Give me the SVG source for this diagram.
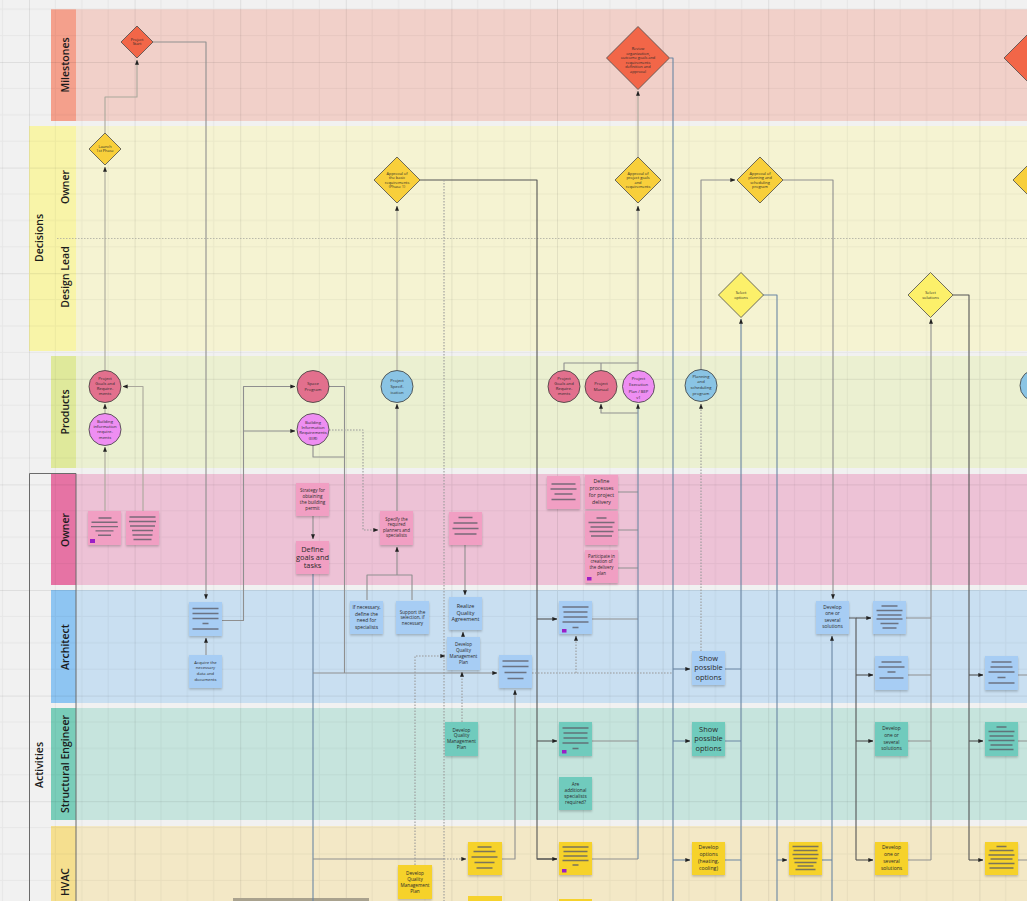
<svg xmlns="http://www.w3.org/2000/svg" width="1027" height="901" viewBox="0 0 1027 901">
<defs>
<style>
.lbl{font-family:"Open Sans","Noto Sans",sans-serif;font-weight:600;font-size:10.5px;fill:#1c1c1c;text-anchor:middle}
.t{font-family:"Open Sans","Noto Sans",sans-serif;fill:#2a2a2a;text-anchor:middle}
.xs{font-size:3.9px}
.cs{font-size:4.2px}
.s{font-size:4.6px}
.m{font-size:7.4px}
.st{filter:url(#sh)}
.pk{fill:#f19fc3}
.bl{fill:#a7cdf4}
.tl{fill:#6fcbbd}
.yl{fill:#f6d22c}
.bars{fill:none;stroke:#5d5d66;stroke-width:1.4;opacity:.8}
.pu{fill:#9a1fc6}
.c{stroke:#3a3a3a;stroke-width:.8}
.dm{stroke:#4a4a4a;stroke-width:.8}
.ln{fill:none;stroke:#8f8f8f;stroke-width:1.1;stroke-linejoin:round}
.lg{stroke:#aaa89c}
.lb{stroke:#6a86a3}
.ld{stroke:#555}
.dt{stroke-dasharray:1.6 1.4;stroke:#9a9a9a}
.ar{marker-end:url(#ah)}
</style>
<marker id="ah" viewBox="0 0 6 6" refX="5.6" refY="3" markerWidth="5" markerHeight="5" orient="auto" markerUnits="userSpaceOnUse"><path d="M0,0.6 L6,3 L0,5.4z" fill="#222"/></marker>
<filter id="sh" x="-20%" y="-20%" width="140%" height="150%"><feDropShadow dx="0" dy="1.5" stdDeviation="1" flood-color="#000" flood-opacity="0.22"/></filter>
<pattern id="grid" x="29" y="-43.6" width="105.6" height="105.6" patternUnits="userSpaceOnUse">
<path d="M26.4,0V105.6M52.8,0V105.6M79.2,0V105.6M0,26.4H105.6M0,52.8H105.6M0,79.2H105.6" stroke="#000" stroke-opacity="0.045" stroke-width="1" fill="none"/>
<path d="M0.5,0V105.6M0,0.5H105.6" stroke="#000" stroke-opacity="0.08" stroke-width="1" fill="none"/>
</pattern>
</defs>

<rect x="0" y="0" width="1027" height="901" fill="#f1f1f1"/>

<g id="lanes">
<rect x="76" y="9.3" width="951" height="111.7" fill="#f1d0c9"/>
<rect x="51" y="9.3" width="25" height="111.7" fill="#f4a08c"/>
<rect x="76" y="126" width="951" height="225" fill="#f5f3d2"/>
<rect x="29" y="126" width="47" height="225" fill="#f8f4a8"/>
<rect x="76" y="356" width="951" height="112" fill="#ebf0d1"/>
<rect x="51" y="356" width="25" height="112" fill="#dfe99b"/>
<rect x="76" y="474" width="951" height="111" fill="#edc2d6"/>
<rect x="51" y="474" width="25" height="111" fill="#e673a4"/>
<rect x="76" y="590" width="951" height="113" fill="#c9dff1"/>
<rect x="51" y="590" width="25" height="113" fill="#8ec5f2"/>
<rect x="76" y="708" width="951" height="112" fill="#c6e4dd"/>
<rect x="51" y="708" width="25" height="112" fill="#79cdb9"/>
<rect x="76" y="826" width="951" height="112" fill="#f3e8c6"/>
<rect x="51" y="826" width="25" height="112" fill="#f5df8f"/>
</g>
<rect x="0" y="0" width="1027" height="901" fill="url(#grid)"/>
<g id="lane-frame">
<path d="M57,238.5H1027" stroke="#a9a9a0" stroke-width="0.8" stroke-dasharray="1.5 1.5" fill="none"/>
<path d="M29.5,905V473.5H76M76,473.5V905" stroke="#6b6b6b" stroke-width="1" fill="none"/>
<rect x="233" y="898" width="136" height="3" fill="#a9a28e"/>
</g>
<g id="lane-labels">
<text class="lbl" transform="translate(68.5,65) rotate(-90)">Milestones</text>
<text class="lbl" transform="translate(42.5,238) rotate(-90)">Decisions</text>
<text class="lbl" transform="translate(68.5,187) rotate(-90)">Owner</text>
<text class="lbl" transform="translate(68.5,277) rotate(-90)">Design Lead</text>
<text class="lbl" transform="translate(68.5,412) rotate(-90)">Products</text>
<text class="lbl" transform="translate(42.5,765) rotate(-90)">Activities</text>
<text class="lbl" transform="translate(68.5,530) rotate(-90)">Owner</text>
<text class="lbl" transform="translate(68.5,647) rotate(-90)">Architect</text>
<text class="lbl" transform="translate(68.5,764) rotate(-90)">Structural Engineer</text>
<text class="lbl" transform="translate(68.5,882) rotate(-90)">HVAC</text>
</g>

<g id="connectors">
<path class="ln lg ar" d="M105,511V447"/>
<path class="ln lg ar" d="M105,413V404"/>
<path class="ln lg ar" d="M105,370V167"/>
<path class="ln lg ar" d="M105,133V97H137V60"/>
<path class="ln lg ar" d="M143,511V386.5H123"/>
<path class="ln ar" d="M153,42H206V599"/>
<path class="ln ar" d="M206,655V638"/>
<path class="ln ar" d="M222,620.5H243.5V386.5H295"/>
<path class="ln ar" d="M243.5,431H295"/>
<path class="ln ar" d="M313,516V539"/>
<path class="ln lb" d="M313,574V901"/>
<path class="ln ar" d="M313,673H497"/>
<path class="ln" d="M313,859H444"/>
<path class="ln dt ar" d="M444,859H466"/>
<path class="ln" d="M329,386.5H344.5V673"/>
<path class="ln" d="M313,445V457H344.5"/>
<path class="ln dt ar" d="M329,430H363V530H378"/>
<path class="ln ar" d="M397,511V404"/>
<path class="ln lg ar" d="M397,370V206"/>
<path class="ln" d="M367,600V575H412V600"/>
<path class="ln ar" d="M397,575V547"/>
<path class="ln ld" d="M420,180H537V859H557"/>
<path class="ln ld ar" d="M537,859H557"/>
<path class="ln ld ar" d="M537,619H557"/>
<path class="ln ld ar" d="M537,741H557"/>
<path class="ln dt" d="M444,180V901"/>
<path class="ln dt ar" d="M415,865V656H445"/>
<path class="ln dt ar" d="M462,722V672"/>
<path class="ln ar" d="M463,637V632"/>
<path class="ln ar" d="M465,545V595"/>
<path class="ln ar" d="M502,859H515V690"/>
<path class="ln" d="M592,619H638M592,741H638M592,859H638M618,492H638M618,530H638M618,568H638"/>
<path class="ln lb ar" d="M638,859V404"/>
<path class="ln ar" d="M638,413H601V404"/>
<path class="ln" d="M564,370V363H638M601,370V363"/>
<path class="ln ar" d="M638,370V206"/>
<path class="ln lg ar" d="M638,157V91"/>
<path class="ln lb" d="M670,58H673V901"/>
<path class="ln lb ar" d="M673,669H690"/>
<path class="ln lb ar" d="M673,741H690"/>
<path class="ln lb ar" d="M673,860H690"/>
<path class="ln dt" d="M532,673H673"/>
<path class="ln dt ar" d="M576,673V636"/>
<path class="ln dt ar" d="M701,651V404"/>
<path class="ln ar" d="M701,370V180H735"/>
<path class="ln ar" d="M783,180H833V599"/>
<path class="ln lb" d="M725,669H741M725,741H741M725,860H741"/>
<path class="ln lb ar" d="M741,901V319"/>
<path class="ln lb" d="M763,295H777V901"/>
<path class="ln lb ar" d="M777,860H787"/>
<path class="ln lb" d="M822,860H832"/>
<path class="ln lb ar" d="M832,901V636"/>
<path class="ln ld" d="M849,618H856V860"/>
<path class="ln ld ar" d="M856,618H871"/>
<path class="ln ld ar" d="M856,675H873"/>
<path class="ln ld ar" d="M856,741H873"/>
<path class="ln ld ar" d="M856,860H873"/>
<path class="ln" d="M906,618H931M908,675H931M908,741H931M908,860H931"/>
<path class="ln ar" d="M931,860V319"/>
<path class="ln ld" d="M953,295H969V860"/>
<path class="ln ld ar" d="M969,675H983"/>
<path class="ln ld ar" d="M969,741H983"/>
<path class="ln ld ar" d="M969,860H983"/>
<path class="ln" d="M1018,675H1027M1018,741H1027M1018,860H1027"/>
</g>

<g id="milestones">
<g id="m1"><polygon class="dm" points="137,26 153,42 137,58 121,42" fill="#f26648"/>
<text class="t xs" x="137" y="41"><tspan x="137">Project</tspan><tspan x="137" dy="4.4">Start</tspan></text></g>
<g id="m2"><polygon class="dm" points="638,26.5 669.5,58 638,89.5 606.5,58" fill="#f26648"/>
<text class="t xs" x="638" y="50"><tspan x="638">Review</tspan><tspan x="638" dy="4.6">organization,</tspan><tspan x="638" dy="4.6">outcome goals and</tspan><tspan x="638" dy="4.6">requirements</tspan><tspan x="638" dy="4.6">definition and</tspan><tspan x="638" dy="4.6">approval</tspan></text></g>
<g id="m3"><polygon class="dm" points="1035,27 1066,58 1035,89 1004,58" fill="#f26648"/></g>
</g>

<g id="decisions">
<g id="d1"><polygon class="dm" points="105,133 121,149 105,165 89,149" fill="#f8cf3b"/>
<text class="t xs" x="105" y="148"><tspan x="105">Launch</tspan><tspan x="105" dy="4.4">1st Phase</tspan></text></g>
<g id="d2"><polygon class="dm" points="397,157 420,180 397,203 374,180" fill="#f8cf3b"/>
<text class="t xs" x="397" y="174.5"><tspan x="397">Approval of</tspan><tspan x="397" dy="4.6">the basic</tspan><tspan x="397" dy="4.6">requirements</tspan><tspan x="397" dy="4.6">(Phase 1)</tspan></text></g>
<g id="d3"><polygon class="dm" points="638,157 661,180 638,203 615,180" fill="#f8cf3b"/>
<text class="t xs" x="638" y="174.5"><tspan x="638">Approval of</tspan><tspan x="638" dy="4.6">project goals</tspan><tspan x="638" dy="4.6">and</tspan><tspan x="638" dy="4.6">requirements</tspan></text></g>
<g id="d4"><polygon class="dm" points="760,157 783,180 760,203 737,180" fill="#f8cf3b"/>
<text class="t xs" x="760" y="174.5"><tspan x="760">Approval of</tspan><tspan x="760" dy="4.6">planning and</tspan><tspan x="760" dy="4.6">scheduling</tspan><tspan x="760" dy="4.6">program</tspan></text></g>
<g id="d5"><polygon class="dm" points="1036,157 1059,180 1036,203 1013,180" fill="#f8cf3b"/></g>
<g id="d6"><polygon class="dm" points="741,272.5 763.5,295 741,317.5 718.5,295" fill="#fcf06a"/>
<text class="t xs" x="741" y="294"><tspan x="741">Select</tspan><tspan x="741" dy="4.6">options</tspan></text></g>
<g id="d7"><polygon class="dm" points="930.5,272.5 953,295 930.5,317.5 908,295" fill="#fcf06a"/>
<text class="t xs" x="930.5" y="294"><tspan x="930.5">Select</tspan><tspan x="930.5" dy="4.6">solutions</tspan></text></g>
</g>

<g id="products">
<g id="p1"><circle class="c" cx="105" cy="386.5" r="16" fill="#e2708d"/>
<text class="t cs" x="105" y="379.5"><tspan x="105">Project</tspan><tspan x="105" dy="5.3">Goals and</tspan><tspan x="105" dy="5.3">Require-</tspan><tspan x="105" dy="5.3">ments</tspan></text></g>
<g id="p2"><circle class="c" cx="105" cy="429.5" r="16" fill="#ee8ef2"/>
<text class="t cs" x="105" y="423"><tspan x="105">Building</tspan><tspan x="105" dy="5.2">information</tspan><tspan x="105" dy="5.2">require-</tspan><tspan x="105" dy="5.2">ments</tspan></text></g>
<g id="p3"><circle class="c" cx="313" cy="386.5" r="16" fill="#e2708d"/>
<text class="t cs" x="313" y="385.3"><tspan x="313">Space</tspan><tspan x="313" dy="5.2">Program</tspan></text></g>
<g id="p4"><circle class="c" cx="313" cy="429.5" r="16" fill="#ee8ef2"/>
<text class="t cs" x="313" y="423.5"><tspan x="313">Building</tspan><tspan x="313" dy="5.4">Information</tspan><tspan x="313" dy="5.4">Requirements</tspan><tspan x="313" dy="5.4">(EIR)</tspan></text></g>
<g id="p5"><circle class="c" cx="397" cy="386.5" r="16" fill="#8ac4e4"/>
<text class="t cs" x="397" y="381.5"><tspan x="397">Project</tspan><tspan x="397" dy="6">Specif-</tspan><tspan x="397" dy="6">ication</tspan></text></g>
<g id="p6"><circle class="c" cx="564" cy="386.5" r="16" fill="#e2708d"/>
<text class="t cs" x="564" y="379.5"><tspan x="564">Project</tspan><tspan x="564" dy="5.3">Goals and</tspan><tspan x="564" dy="5.3">Require-</tspan><tspan x="564" dy="5.3">ments</tspan></text></g>
<g id="p7"><circle class="c" cx="601" cy="386.5" r="16" fill="#e2708d"/>
<text class="t cs" x="601" y="385.4"><tspan x="601">Project</tspan><tspan x="601" dy="5.2">Manual</tspan></text></g>
<g id="p8"><circle class="c" cx="638.5" cy="386.5" r="16" fill="#ee8ef2"/>
<text class="t cs" x="638.5" y="379.5"><tspan x="638.5">Project</tspan><tspan x="638.5" dy="6.5">Execution</tspan><tspan x="638.5" dy="6.5">Plan / BEP</tspan><tspan x="638.5" dy="6.5">v1</tspan></text></g>
<g id="p9"><circle class="c" cx="701" cy="385.5" r="16" fill="#8ac4e4"/>
<text class="t cs" x="701" y="377.5"><tspan x="701">Planning</tspan><tspan x="701" dy="5.7">and</tspan><tspan x="701" dy="5.7">scheduling</tspan><tspan x="701" dy="5.7">program</tspan></text></g>
<g id="p10"><circle class="c" cx="1036" cy="385.5" r="16" fill="#8ac4e4"/></g>
</g>

<g id="owner-activities">
<g id="o1"><rect class="st pk" x="88" y="511" width="33" height="34"/><path class="bars" d="M98.5,518H111.5M91.5,522.3H117.5M91,526.6H118M95.5,530.9H113.5M98,535.2H111"/><rect class="pu" x="90" y="539" width="5" height="4"/></g>
<g id="o2"><rect class="st pk" x="126" y="511" width="33" height="34"/><path class="bars" d="M129.5,517H155.5M129,521.5H156M130,526H155M132,530.5H153M132.5,535H152.5M133.5,539.5H151.5"/></g>
<g id="o3"><rect class="st pk" x="296" y="483" width="33" height="33"/>
<text class="t s" x="312.5" y="491.6"><tspan x="312.5">Strategy for</tspan><tspan x="312.5" dy="6.2">obtaining</tspan><tspan x="312.5" dy="6.2">the building</tspan><tspan x="312.5" dy="6.2">permit</tspan></text></g>
<g id="o4"><rect class="st pk" x="296" y="541" width="33" height="33"/>
<text class="t m" x="312.5" y="551.5"><tspan x="312.5">Define</tspan><tspan x="312.5" dy="8">goals and</tspan><tspan x="312.5" dy="8">tasks</tspan></text></g>
<g id="o5"><rect class="st pk" x="380" y="511" width="33" height="34"/>
<text class="t s" x="396.5" y="520.5" style="font-size:4.4px"><tspan x="396.5">Specify the</tspan><tspan x="396.5" dy="5.6">required</tspan><tspan x="396.5" dy="5.6">planners and</tspan><tspan x="396.5" dy="5.6">specialists</tspan></text></g>
<g id="o6"><rect class="st pk" x="449" y="512" width="33" height="33"/><path class="bars" d="M458.5,517.5H472.5M453.5,523H477.5M452.5,528.5H478.5M454.5,534H476.5"/></g>
<g id="o7"><rect class="st pk" x="547" y="476" width="33" height="33"/><path class="bars" d="M551.5,484H575.5M550.5,489H576.5M554.5,494H572.5M551.5,499.5H575.5"/></g>
<g id="o8"><rect class="st pk" x="585" y="475" width="33" height="34"/>
<text class="t" x="601.5" y="483" style="font-size:5.2px"><tspan x="601.5">Define</tspan><tspan x="601.5" dy="7">processes</tspan><tspan x="601.5" dy="7">for project</tspan><tspan x="601.5" dy="7">delivery</tspan></text></g>
<g id="o9"><rect class="st pk" x="585" y="511" width="33" height="34"/><path class="bars" d="M596.5,518H606.5M588.5,522.5H614.5M590.5,527H612.5M589.5,531.5H613.5M591,536H612"/></g>
<g id="o10"><rect class="st pk" x="585" y="550" width="33" height="33"/>
<text class="t" x="601.5" y="557.5" style="font-size:4.4px"><tspan x="601.5">Participate in</tspan><tspan x="601.5" dy="5.7">creation of</tspan><tspan x="601.5" dy="5.7">the delivery</tspan><tspan x="601.5" dy="5.7">plan</tspan></text><rect class="pu" x="587" y="577" width="4.5" height="3.5"/></g>
</g>

<g id="architect-activities">
<g id="a1"><rect class="st bl" x="189" y="602" width="33" height="34"/><path class="bars" d="M192.5,608.5H218.5M192.5,613.5H218.5M192.5,618.5H218.5M202.5,623.5H208.5M192.5,629H218.5"/></g>
<g id="a2"><rect class="st bl" x="189" y="655" width="33" height="33"/>
<text class="t" x="205.5" y="663.5" style="font-size:4.2px"><tspan x="205.5">Acquire the</tspan><tspan x="205.5" dy="5.8">necessary</tspan><tspan x="205.5" dy="5.8">data and</tspan><tspan x="205.5" dy="5.8">documents</tspan></text></g>
<g id="a3"><rect class="st bl" x="350" y="601" width="33" height="33"/>
<text class="t" x="366.5" y="609" style="font-size:4.9px"><tspan x="366.5">If necessary,</tspan><tspan x="366.5" dy="6.6">define the</tspan><tspan x="366.5" dy="6.6">need for</tspan><tspan x="366.5" dy="6.6">specialists</tspan></text></g>
<g id="a4"><rect class="st bl" x="396" y="601" width="33" height="33"/>
<text class="t s" x="412.5" y="613.5"><tspan x="412.5">Support the</tspan><tspan x="412.5" dy="5.8">selection, if</tspan><tspan x="412.5" dy="5.8">necessary</tspan></text></g>
<g id="a5"><rect class="st bl" x="449" y="597" width="33" height="33"/>
<text class="t" x="465.5" y="608" style="font-size:5.4px"><tspan x="465.5">Realize</tspan><tspan x="465.5" dy="6.5">Quality</tspan><tspan x="465.5" dy="6.5">Agreement</tspan></text></g>
<g id="a6"><rect class="st bl" x="447" y="637" width="33" height="33"/>
<text class="t" x="463.5" y="645.5" style="font-size:4.5px"><tspan x="463.5">Develop</tspan><tspan x="463.5" dy="6">Quality</tspan><tspan x="463.5" dy="6">Management</tspan><tspan x="463.5" dy="6">Plan</tspan></text></g>
<g id="a7"><rect class="st bl" x="499" y="655" width="33" height="33"/><path class="bars" d="M502.5,661H528.5M502.5,666.5H528.5M504.5,672.5H526.5M507.5,678.5H523.5"/></g>
<g id="a8"><rect class="st bl" x="559" y="601" width="33" height="33"/><path class="bars" d="M562.5,607H588.5M563.5,612H587.5M563.5,617H587.5M562.5,622H588.5M572.5,627.5H578.5"/><rect class="pu" x="562" y="629" width="4.5" height="3.5"/></g>
<g id="a9"><rect class="st bl" x="692" y="651" width="33" height="34"/>
<text class="t m" x="708.5" y="661"><tspan x="708.5">Show</tspan><tspan x="708.5" dy="9.3">possible</tspan><tspan x="708.5" dy="9.3">options</tspan></text></g>
<g id="a10"><rect class="st bl" x="816" y="601" width="33" height="33"/>
<text class="t" x="832.5" y="608.6" style="font-size:4.8px"><tspan x="832.5">Develop</tspan><tspan x="832.5" dy="6.6">one or</tspan><tspan x="832.5" dy="6.6">several</tspan><tspan x="832.5" dy="6.6">solutions</tspan></text></g>
<g id="a11"><rect class="st bl" x="873" y="601" width="33" height="33"/><path class="bars" d="M881.5,606H897.5M876.5,610.5H902.5M877.5,615H901.5M876.5,619H902.5M880.5,623.5H898.5M882.5,628H896.5"/></g>
<g id="a12"><rect class="st bl" x="875" y="656" width="33" height="34"/><path class="bars" d="M881.5,662H901.5M878.5,667H904.5M887.5,672H895.5M879.5,678H903.5"/></g>
<g id="a13"><rect class="st bl" x="985" y="656" width="33" height="34"/><path class="bars" d="M991.5,662H1011.5M990.5,667H1012.5M988.5,672H1014.5M997.5,677.5H1005.5M988.5,683H1014.5"/></g>
</g>

<g id="structural-activities">
<g id="s1"><rect class="st tl" x="445" y="722" width="33" height="34"/>
<text class="t" x="461.5" y="731.5" style="font-size:4.7px"><tspan x="461.5">Develop</tspan><tspan x="461.5" dy="5.8">Quality</tspan><tspan x="461.5" dy="5.8">Management</tspan><tspan x="461.5" dy="5.8">Plan</tspan></text></g>
<g id="s2"><rect class="st tl" x="559" y="722" width="33" height="34"/><path class="bars" d="M562.5,728H588.5M563.5,733H587.5M563.5,738H587.5M562.5,743H588.5M572.5,748.5H578.5"/><rect class="pu" x="562" y="750" width="4.5" height="3.5"/></g>
<g id="s3"><rect class="st tl" x="559" y="777" width="33" height="33"/>
<text class="t" x="575.5" y="785.7" style="font-size:4.7px"><tspan x="575.5">Are</tspan><tspan x="575.5" dy="6">additional</tspan><tspan x="575.5" dy="6">specialists</tspan><tspan x="575.5" dy="6">required?</tspan></text></g>
<g id="s4"><rect class="st tl" x="692" y="722" width="33" height="34"/>
<text class="t m" x="708.5" y="732"><tspan x="708.5">Show</tspan><tspan x="708.5" dy="9.3">possible</tspan><tspan x="708.5" dy="9.3">options</tspan></text></g>
<g id="s5"><rect class="st tl" x="875" y="722" width="33" height="34"/>
<text class="t" x="891.5" y="730" style="font-size:4.8px"><tspan x="891.5">Develop</tspan><tspan x="891.5" dy="6.8">one or</tspan><tspan x="891.5" dy="6.8">several</tspan><tspan x="891.5" dy="6.8">solutions</tspan></text></g>
<g id="s6"><rect class="st tl" x="985" y="722" width="33" height="34"/><path class="bars" d="M996.5,727H1006.5M988.5,731.5H1014.5M989.5,736H1013.5M988.5,740.5H1014.5M990.5,745H1012.5M989.5,749.5H1013.5"/></g>
</g>

<g id="hvac-activities">
<g id="h1"><rect class="st yl" x="398" y="865" width="34" height="34"/>
<text class="t" x="415" y="874.6" style="font-size:4.7px"><tspan x="415">Develop</tspan><tspan x="415" dy="6">Quality</tspan><tspan x="415" dy="6">Management</tspan><tspan x="415" dy="6">Plan</tspan></text></g>
<g id="h2"><rect class="st yl" x="468" y="842" width="34" height="33"/><path class="bars" d="M477.5,847H491.5M473.5,851.5H495.5M471.5,857H497.5M474.5,862.5H494.5M476.5,868H492.5"/></g>
<g id="h3"><rect class="yl" x="468" y="896" width="34" height="10"/></g>
<g id="h4"><rect class="st yl" x="559" y="842" width="33" height="33"/><path class="bars" d="M562.5,847H588.5M563.5,851.5H587.5M563.5,856H587.5M562.5,860.5H588.5M572.5,865H578.5"/><rect class="pu" x="562" y="869" width="4.5" height="3.5"/></g>
<g id="h5"><rect class="yl" x="559" y="899" width="33" height="10"/></g>
<g id="h6"><rect class="st yl" x="692" y="842" width="33" height="33"/>
<text class="t" x="708.5" y="849" style="font-size:5.2px"><tspan x="708.5">Develop</tspan><tspan x="708.5" dy="7">options</tspan><tspan x="708.5" dy="7">(heating,</tspan><tspan x="708.5" dy="7">cooling)</tspan></text></g>
<g id="h7"><rect class="st yl" x="789" y="842" width="33" height="33"/><path class="bars" d="M792.5,846.5H818.5M793.5,850.5H817.5M792.5,854.5H818.5M793.5,858.5H817.5M794.5,862.5H816.5M797.5,866H813.5M795.5,869.5H815.5"/></g>
<g id="h8"><rect class="st yl" x="875" y="842" width="33" height="33"/>
<text class="t" x="891.5" y="848.8" style="font-size:5px"><tspan x="891.5">Develop</tspan><tspan x="891.5" dy="7">one or</tspan><tspan x="891.5" dy="7">several</tspan><tspan x="891.5" dy="7">solutions</tspan></text></g>
<g id="h9"><rect class="st yl" x="985" y="842" width="33" height="33"/><path class="bars" d="M996.5,846.5H1006.5M989.5,850.5H1013.5M988.5,855H1014.5M990.5,859H1012.5M988.5,863.5H1014.5M989.5,868H1013.5"/></g>
</g>
</svg>
